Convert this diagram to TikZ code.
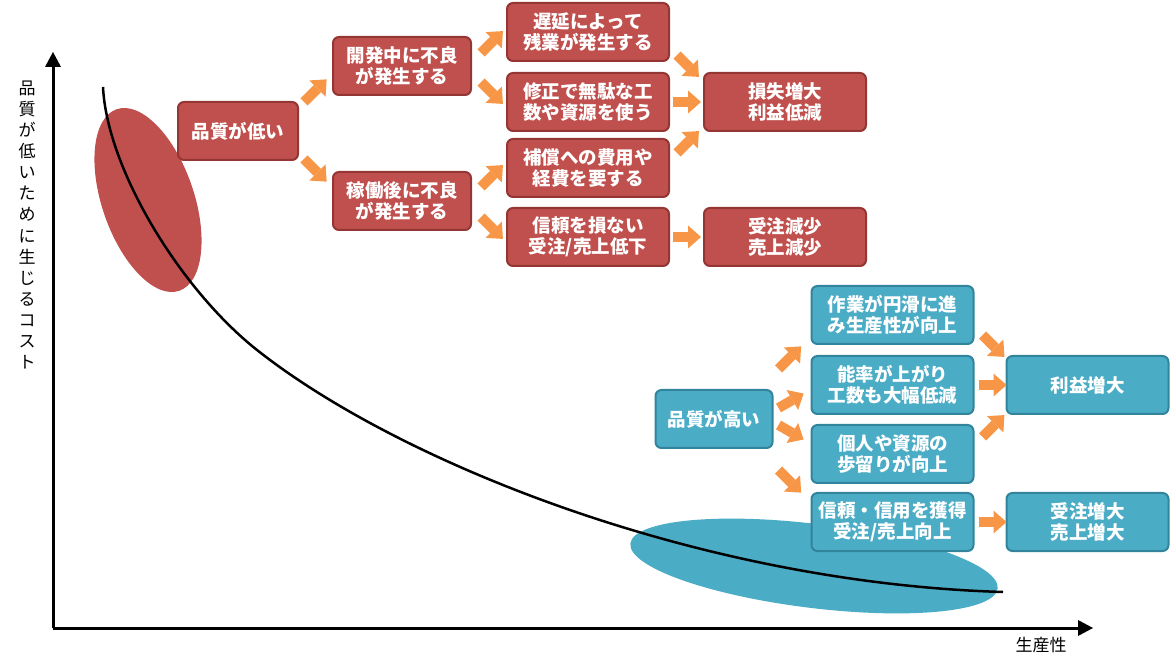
\documentclass[tikz,border=0pt]{standalone}
\usepackage{fontspec}
\setmainfont{Noto Sans CJK JP}
\usepackage{tikz}
\usetikzlibrary{positioning,arrows.meta}
\definecolor{redfill}{HTML}{C0504D}
\definecolor{redline}{HTML}{943634}
\definecolor{tealfill}{HTML}{4BACC6}
\definecolor{tealline}{HTML}{31849B}
\definecolor{arrowfill}{HTML}{F79646}

\begin{document}
\begin{tikzpicture}[x=1pt,y=1pt,
	box/.style={rounded corners=6pt,line width=2pt,text=white,align=center,
		minimum width=162pt,minimum height=58pt,inner sep=2pt,
		font=\bfseries\fontsize{18.5}{21}\selectfont},
	redbox/.style={box,draw=redline,fill=redfill},
	tealbox/.style={box,draw=tealline,fill=tealfill},
	barrow/.style={draw=arrowfill,line width=10pt,
		-{Triangle[length=13pt,width=23pt,line width=0pt]}},
	axis/.style={line width=3pt,-{Triangle[length=15pt,width=16pt,line width=0pt]}}]
	\useasboundingbox (0,0) rectangle (1175,659);
	% ellipses and curve
	\fill[redfill,rotate around={-71:(148,459)}] (148,459) ellipse (96 and 46);
	\fill[tealfill,rotate around={-7:(814,93)}] (814,93) ellipse (185 and 42);
	\draw[line width=2.5pt] (103,572) .. controls (107,490) and (180,370) .. (257,309)
		.. controls (400,196) and (700,76) .. (1003,67);
	% axes
	\coordinate (o) at (53,31);
	\coordinate (y_top) at (53,607);
	\coordinate (x_end) at (1093,31);
	\draw[axis] (o) -- (y_top);
	\draw[axis] (o) -- (x_end);
	\node[align=center,font=\fontsize{17}{21.1}\selectfont] (ylab) at (27,434)
		{品\\質\\が\\低\\い\\た\\め\\に\\生\\じ\\る\\コ\\ス\\ト};
	\node[font=\fontsize{17}{20}\selectfont] (xlab) at (1041,14) {生産性};
	% low quality
	\node[redbox,minimum width=120pt] (r_0) at (238,528) {品質が低い};
	\node[redbox,minimum width=138pt] (r_1) [right=33pt of r_0,yshift=65pt] {開発中に不良\\が発生する};
	\node[redbox,minimum width=138pt] (r_2) [right=33pt of r_0,yshift=-70pt] {稼働後に不良\\が発生する};
	\node[redbox] (r_3) [right=34pt of r_1,yshift=34pt] {遅延によって\\残業が発生する};
	\node[redbox] (r_4) [below=10pt of r_3] {修正で無駄な工\\数や資源を使う};
	\node[redbox] (r_5) [below=6pt of r_4] {補償への費用や\\経費を要する};
	\node[redbox] (r_6) [below=9pt of r_5] {信頼を損ない\\受注/売上低下};
	\node[redbox] (r_7) [right=33pt of r_4] {損失増大\\利益低減};
	\node[redbox] (r_8) [right=33pt of r_6] {受注減少\\売上減少};
	\draw[barrow] ([shift={(5,-1)}]r_0.north east) -- ++(45:32);
	\draw[barrow] ([shift={(5,2)}]r_0.south east) -- ++(-45:32);
	\draw[barrow] ([shift={(9,13)}]r_1.east) -- ++(45:31);
	\draw[barrow] ([shift={(9,-16)}]r_1.east) -- ++(-45:31);
	\draw[barrow] ([shift={(9,14)}]r_2.east) -- ++(45:31);
	\draw[barrow] ([shift={(9,-16)}]r_2.east) -- ++(-45:31);
	\draw[barrow] ([shift={(7,-23)}]r_3.east) -- ++(-45:31);
	\draw[barrow] ([xshift=3pt]r_4.east) -- ++(0:28);
	\draw[barrow] ([shift={(7,15)}]r_5.east) -- ++(45:31);
	\draw[barrow] ([xshift=3pt]r_6.east) -- ++(0:28);
	% high quality
	\node[tealbox,minimum width=117pt] (t_0) at (714,240) {品質が高い};
	\node[tealbox] (t_2) [right=37pt of t_0,yshift=34pt] {能率が上がり\\工数も大幅低減};
	\node[tealbox] (t_1) [above=10pt of t_2] {作業が円滑に進\\み生産性が向上};
	\node[tealbox] (t_3) [below=9pt of t_2] {個人や資源の\\歩留りが向上};
	\node[tealbox] (t_4) [below=8pt of t_3] {信頼・信用を獲得\\受注/売上向上};
	\node[tealbox] (t_5) [right=31pt of t_2] {利益増大};
	\node[tealbox] (t_6) [right=31pt of t_4] {受注増大\\売上増大};
	\draw[barrow] ([shift={(5,50)}]t_0.east) -- ++(45:32);
	\draw[barrow] ([shift={(5,11)}]t_0.east) -- ++(30:29);
	\draw[barrow] ([shift={(5,-6)}]t_0.east) -- ++(-30:29);
	\draw[barrow] ([shift={(5,-51)}]t_0.east) -- ++(-45:32);
	\draw[barrow] ([shift={(8,-20)}]t_1.east) -- ++(-45:31);
	\draw[barrow] ([xshift=4pt]t_2.east) -- ++(0:28);
	\draw[barrow] ([shift={(8,17)}]t_3.east) -- ++(45:31);
	\draw[barrow] ([xshift=4pt]t_4.east) -- ++(0:28);
\end{tikzpicture}
\end{document}
